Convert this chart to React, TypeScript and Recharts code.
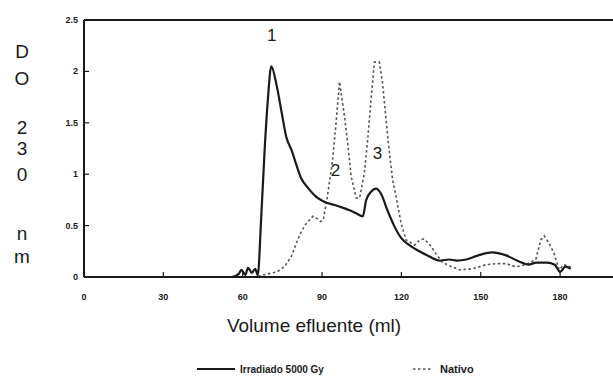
import React from 'react';
import { LineChart, Line, XAxis, YAxis, ReferenceLine, ReferenceDot } from 'recharts';

// Elution profile (absorbance at 230 nm) vs effluent volume
const irradiadoMl = [56, 58.5, 59.5, 61, 62, 63.5, 64.7, 65.7, 67, 68.3, 69.5, 70.8, 72.7, 74.6, 76.5, 78.4, 80.3, 82.1, 84.6, 87.8, 91, 94.7, 97.2, 100.4, 102.9, 105.4, 106.7, 108.5, 110.4, 112.3, 114.7, 117.4, 119.9, 123, 126.8, 130.6, 134.3, 138, 141, 144.5, 149, 154.3, 159.6, 164.5, 168, 171, 175, 178, 180, 182, 184];
const irradiadoDo = [0, 0.03, 0.07, 0.02, 0.09, 0.04, 0.08, 0.02, 0.58, 1.24, 1.72, 2.05, 1.88, 1.62, 1.36, 1.24, 1.09, 0.96, 0.87, 0.78, 0.73, 0.7, 0.68, 0.65, 0.62, 0.59, 0.75, 0.83, 0.86, 0.81, 0.65, 0.49, 0.38, 0.31, 0.25, 0.2, 0.16, 0.17, 0.16, 0.17, 0.21, 0.24, 0.21, 0.15, 0.12, 0.14, 0.14, 0.12, 0.05, 0.1, 0.08];

const nativoMl = [64, 69.5, 73, 75.8, 78.4, 80.3, 82.1, 84, 86.5, 88, 89.5, 90.5, 92, 94, 95.3, 96.6, 98.5, 99.7, 101, 102.9, 104.2, 106, 107.3, 108.5, 109.8, 111.7, 112.9, 114.2, 115.5, 116.7, 118, 119.9, 121.8, 125, 127, 128.5, 130.6, 133, 135.6, 139, 142, 147, 152, 156, 159.6, 163.3, 167, 170.8, 172.7, 174, 175.8, 177.7, 179.6, 181.5, 184];
const nativoDo = [0, 0.03, 0.05, 0.1, 0.2, 0.33, 0.44, 0.52, 0.59, 0.57, 0.54, 0.56, 0.78, 1.14, 1.5, 1.9, 1.56, 1.3, 0.98, 0.77, 0.77, 1.01, 1.35, 1.72, 2.09, 2.09, 1.88, 1.53, 1.2, 0.94, 0.78, 0.52, 0.36, 0.31, 0.36, 0.37, 0.32, 0.23, 0.14, 0.1, 0.07, 0.08, 0.12, 0.13, 0.13, 0.1, 0.12, 0.17, 0.36, 0.4, 0.33, 0.23, 0.07, 0.12, 0.1];

const xTicks = [0, 30, 60, 90, 120, 150, 180];
const yTicks = [0, 0.5, 1, 1.5, 2, 2.5];
const yTickLabels = ['0', '0.5', '1', '1.5', '2', '2.5'];

// Peak numbers placed at (volume, absorbance)
const peakNames = ['1', '2', '3'];
const peakMl = [71, 95.1, 111];
const peakDo = [2.35, 1.04, 1.21];

const yLabelLetters = ['D', 'O', '2', '3', '0', 'n', 'm'];
const yLabelRows = [51, 78, 127, 148, 174, 233, 256];

const seriesNames = ['Irradiado 5000 Gy', 'Nativo'];

const irradiado = irradiadoMl.map((ml, i) => ({ ml, v: irradiadoDo[i] }));
const nativo = nativoMl.map((ml, i) => ({ ml, v: nativoDo[i] }));

const INK = '#1a1a1a';
const FONT = '"Liberation Sans", Arial, sans-serif';

const YTick = (props: any) => {
  const { x, y, payload } = props;
  const idx = yTicks.indexOf(payload.value);
  return (
    <g>
      <line x1={x} x2={x + 5} y1={y} y2={y} stroke={INK} strokeWidth={1.2} />
      <text x={x - 6} y={y + 3} textAnchor="end" fontSize={9} fontWeight="bold" fill={INK} fontFamily={FONT}>
        {idx >= 0 ? yTickLabels[idx] : payload.value}
      </text>
    </g>
  );
};

const XTick = (props: any) => {
  const { x, y, payload } = props;
  return (
    <g>
      <line x1={x} x2={x} y1={y} y2={y - 5} stroke={INK} strokeWidth={1.2} />
      <text x={x} y={y + 23} textAnchor="middle" fontSize={9} fontWeight="bold" fill={INK} fontFamily={FONT}>
        {payload.value}
      </text>
    </g>
  );
};

export default function App() {
  return (
    <div style={{ position: 'absolute', left: 0, top: 0, width: 613, height: 377, background: '#fff' }}>
      <LineChart width={613} height={377} margin={{ top: 20, right: 0, bottom: 0, left: 0 }}>
        <XAxis
          type="number"
          dataKey="ml"
          domain={[0, 200]}
          ticks={xTicks}
          allowDataOverflow
          height={100}
          tickSize={0}
          tickMargin={0}
          tickLine={false}
          tick={<XTick />}
          axisLine={{ stroke: INK, strokeWidth: 2 }}
        />
        <YAxis
          type="number"
          domain={[0, 2.5]}
          ticks={yTicks}
          width={84}
          tickSize={0}
          tickMargin={0}
          tickLine={false}
          tick={<YTick />}
          axisLine={{ stroke: INK, strokeWidth: 2 }}
        />
        <ReferenceLine y={2.5} stroke={INK} strokeWidth={2} />
        <Line
          data={nativo}
          dataKey="v"
          type="linear"
          stroke="#555"
          strokeWidth={1.6}
          strokeDasharray="2.5 2.5"
          dot={false}
          isAnimationActive={false}
        />
        <Line
          data={irradiado}
          dataKey="v"
          type="monotone"
          stroke={INK}
          strokeWidth={2.2}
          dot={false}
          isAnimationActive={false}
        />
        {peakNames.map((name, i) => (
          <ReferenceDot
            key={name}
            x={peakMl[i]}
            y={peakDo[i]}
            r={0}
            fill="none"
            stroke="none"
            label={{ value: name, position: 'center', fontSize: 17, fill: INK, fontFamily: FONT }}
          />
        ))}
      </LineChart>
      <svg
        width={613}
        height={377}
        style={{ position: 'absolute', left: 0, top: 0, pointerEvents: 'none' }}
      >
        {yLabelLetters.map((ch, i) => (
          <text key={i} x={22} y={yLabelRows[i] + 7} textAnchor="middle" fontSize={19} fill={INK} fontFamily={FONT}>
            {ch}
          </text>
        ))}
        <text x={314} y={332} textAnchor="middle" fontSize={19} fill={INK} fontFamily={FONT}>
          Volume efluente (ml)
        </text>
        <line x1={197} x2={235} y1={369} y2={369} stroke={INK} strokeWidth={2} />
        <text x={240} y={373} fontSize={10} fontWeight="bold" fill={INK} fontFamily={FONT}>
          {seriesNames[0]}
        </text>
        <line x1={413} x2={433} y1={369} y2={369} stroke="#555" strokeWidth={1.4} strokeDasharray="2.5 2.5" />
        <text x={440} y={373} fontSize={11} fontWeight="bold" fill={INK} fontFamily={FONT}>
          {seriesNames[1]}
        </text>
      </svg>
    </div>
  );
}
